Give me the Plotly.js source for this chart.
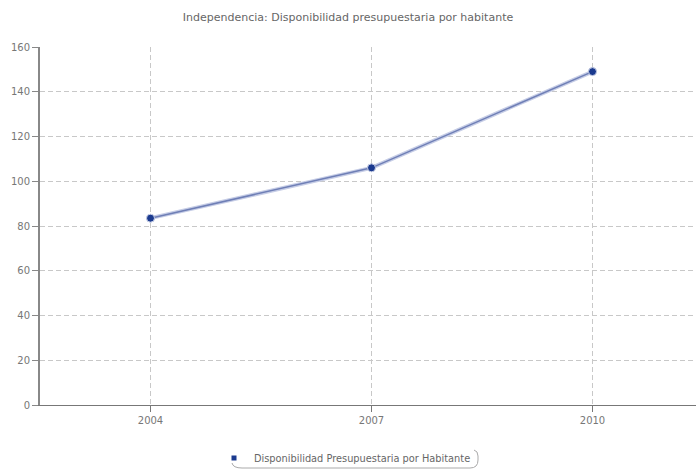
<!DOCTYPE html>
<html><head><meta charset="utf-8">
<script src="https://cdn.plot.ly/plotly-3.0.1.min.js"></script>
<style>html,body{margin:0;padding:0;background:#fff}#chart{width:696px;height:473px}</style>
</head><body><div id="chart"></div>
<script>
const years = ['2004', '2007', '2010'];
const values = [83.5, 106, 149];
const seriesName = 'Disponibilidad Presupuestaria por Habitante';
const titleText = 'Independencia: Disponibilidad presupuestaria por habitante';
const yTicks = [0, 20, 40, 60, 80, 100, 120, 140, 160];

const idx = years.map((_, i) => i);
const W = 696, H = 473, L = 40, R = 0, T = 47, B = 68;
const pw = W - L - R, ph = H - T - B;
const px = v => (v - L) / pw, py = v => (H - B - v) / ph;

const traces = [
  {x: idx, y: values, mode: 'lines', line: {color: '#c6cde6', width: 4}, hoverinfo: 'skip', showlegend: false},
  {x: idx, y: values, mode: 'lines+markers', name: seriesName, showlegend: false,
   line: {color: '#6f7fb6', width: 1.5},
   marker: {color: '#1b3a8f', size: 8, line: {color: '#c8cfe6', width: 1}}},
  {x: [null], y: [null], mode: 'markers', name: seriesName, showlegend: true,
   marker: {color: '#1b3a8f', symbol: 'square', size: 5}}
];

const layout = {
  width: W, height: H,
  margin: {l: L, r: R, t: T, b: B},
  paper_bgcolor: '#fff', plot_bgcolor: '#fff',
  font: {family: 'DejaVu Sans, Verdana, sans-serif', size: 10, color: '#666'},
  title: {text: titleText, x: 0.5, xanchor: 'center', y: 1 - 17 / H, yanchor: 'middle',
          font: {size: 11, color: '#666'}},
  xaxis: {
    range: [-0.5, -0.5 + pw / 221], tickvals: idx, ticktext: years,
    showgrid: true, gridcolor: '#c8c8c8', griddash: '5px,3px', gridwidth: 1,
    showline: true, linecolor: '#777', linewidth: 1,
    ticks: 'outside', ticklen: 6, tickcolor: '#777',
    zeroline: false, fixedrange: true, tickfont: {size: 10, color: '#777'}
  },
  yaxis: {
    range: [0, 160], tickvals: yTicks,
    showgrid: true, gridcolor: '#c8c8c8', griddash: '5px,3px', gridwidth: 1,
    showline: true, linecolor: '#888', linewidth: 2,
    ticks: 'outside', ticklen: 6, tickcolor: '#888',
    zeroline: false, fixedrange: true, tickfont: {size: 10, color: '#777'}
  },
  showlegend: true,
  legend: {orientation: 'h', x: px(214), xanchor: 'left', y: py(458), yanchor: 'middle',
           itemwidth: 30, bgcolor: 'rgba(0,0,0,0)', borderwidth: 0, font: {size: 9.8, color: '#666'}},
  shapes: [{
    type: 'path', xref: 'paper', yref: 'paper',
    path: `M ${px(232)} ${py(463)} Q ${px(233)} ${py(468)} ${px(242)} ${py(468)} L ${px(470)} ${py(468)} Q ${px(478)} ${py(468)} ${px(478)} ${py(460)} L ${px(478)} ${py(456)} Q ${px(478)} ${py(451)} ${px(474)} ${py(450)}`,
    line: {color: '#aaa', width: 1}
  }]
};

Plotly.newPlot('chart', traces, layout, {displayModeBar: false, staticPlot: true});
</script></body></html>
